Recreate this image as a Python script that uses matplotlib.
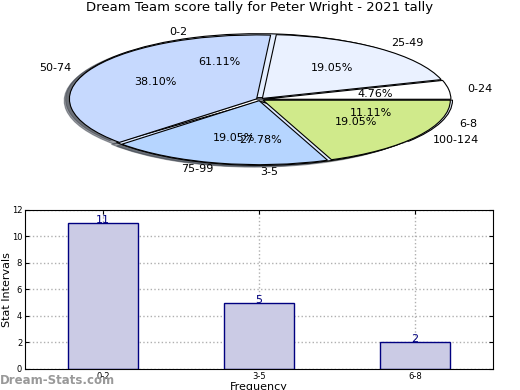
import matplotlib.pyplot as plt

# score ranges (big pie)
score_labels = ["0-24", "25-49", "50-74", "75-99", "100-124"]
score_counts = [1, 4, 8, 4, 4]
score_colors = ["#ffffff", "#eaf1ff", "#c6d9fe", "#b6d5ff", "#d0ea8b"]

# frequency intervals (pie underneath + bar chart)
freq_labels = ["0-2", "3-5", "6-8"]
freq_counts = [11, 5, 2]
freq_colors = ["#e4eeff", "#dde9ff", "#e9f1ff"]

title = "Dream Team score tally for Peter Wright - 2021 tally"

fig = plt.figure(figsize=(5.2, 3.9), dpi=100)

#Pie chart on top :
ax1 = fig.add_axes([0.05, 0.54, 0.90, 0.41])
ax1.pie(freq_counts, labels=freq_labels, colors=freq_colors, autopct="%1.2f%%",
        explode=[0.03] * 3, shadow=True, startangle=0,
        wedgeprops={"edgecolor": "black", "linewidth": 0.8},
        textprops={"fontsize": 8})
ax1.pie(score_counts, labels=score_labels, colors=score_colors, autopct="%1.2f%%",
        explode=[0.02] * 5, shadow=True, startangle=0,
        wedgeprops={"edgecolor": "black", "linewidth": 0.8},
        textprops={"fontsize": 8})
ax1.set_aspect("auto")
ax1.set_xlim(-1.25, 1.25)
ax1.set_ylim(-1.25, 1.25)
ax1.set_title(title, fontsize=9.5, pad=6)

#Bar chart underneath :
ax2 = fig.add_axes([0.048, 0.054, 0.9, 0.408])
x = range(len(freq_labels))
bars = ax2.bar(x, freq_counts, width=0.45, color="#cbcbe5", edgecolor="navy", linewidth=1)
for b, v in zip(bars, freq_counts):
    ax2.text(b.get_x() + b.get_width() / 2, v - 0.15, str(v), ha="center", va="bottom",
             color="navy", fontsize=8)
ax2.set_xticks(list(x))
ax2.set_xticklabels(freq_labels, fontsize=6)
ax2.set_xlim(-0.5, 2.5)
ax2.set_ylim(0, 12)
ax2.set_yticks(range(0, 13, 2))
ax2.tick_params(axis="both", direction="in", labelsize=6, top=True, right=True, length=3, pad=2)
ax2.grid(True, linestyle=":", color="#b0b0b0", linewidth=1)
ax2.set_axisbelow(True)
ax2.set_ylabel("Stat Intervals", fontsize=8, labelpad=0)
ax2.set_xlabel("Frequency", fontsize=8, labelpad=1)

fig.text(0.0, 0.015, "Dream-Stats.com", fontsize=8.5, color="#999999", weight="bold")

plt.savefig("out.png", dpi=100)
